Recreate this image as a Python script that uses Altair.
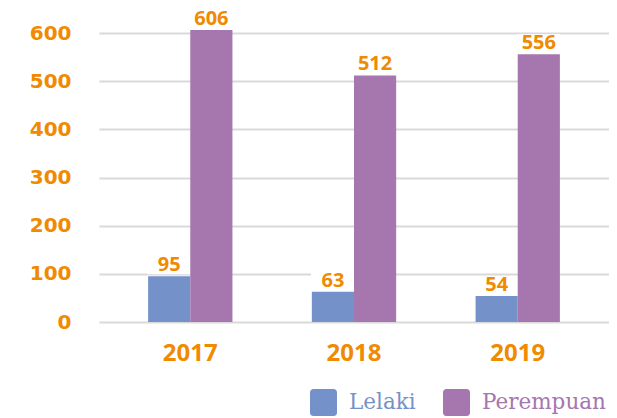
import altair as alt
import pandas as pd

years = ["2017", "2018", "2019"]
series = ["Lelaki", "Perempuan"]
lelaki = [95, 63, 54]
perempuan = [606, 512, 556]
y_ticks = list(range(0, 650, 50))

colors = ["#7591C9", "#A676AE"]
orange = "#F08A00"

rows = []
for i, yr in enumerate(years):
    rows.append({"year": yr, "series": series[0], "value": lelaki[i]})
    rows.append({"year": yr, "series": series[1], "value": perempuan[i]})
df = pd.DataFrame(rows)

x_enc = alt.X(
    "year:N",
    sort=years,
    title=None,
    scale=alt.Scale(paddingInner=0.485, paddingOuter=0.3),
    axis=alt.Axis(
        labelFont="Open Sans", labelFontWeight="bold", labelFontSize=24,
        labelColor=orange, labelPadding=19, domain=False, ticks=False,
        labelAngle=0, grid=False,
    ),
)
xoff = alt.XOffset("series:N", sort=series,
                   scale=alt.Scale(paddingInner=0, paddingOuter=0))
y_enc = alt.Y(
    "value:Q",
    title=None,
    scale=alt.Scale(domain=[0, 600], nice=False),
    axis=alt.Axis(
        values=y_ticks,
        labelExpr="datum.value % 100 === 0 ? datum.label : ''",
        labelFont="DejaVu Sans", labelFontWeight="bold", labelFontSize=20,
        labelColor=orange, labelPadding=28, domain=False, ticks=False,
        gridColor={"condition": {"test": "datum.value % 100 === 0", "value": "#d9d9d9"},
                   "value": "#f2f2f2"},
        gridWidth={"condition": {"test": "datum.value % 100 === 0", "value": 2},
                   "value": 1.5},
        minExtent=86, maxExtent=86,
    ),
)

rounded = ("M-0.75,-1 H0.75 A0.25,0.25 0 0 1 1,-0.75 V0.75 A0.25,0.25 0 0 1 0.75,1 "
           "H-0.75 A0.25,0.25 0 0 1 -1,0.75 V-0.75 A0.25,0.25 0 0 1 -0.75,-1 Z")

boxes = alt.Chart(df).mark_point(
    shape="M-1.1,-0.45 H1.1 V0.45 H-1.1 Z", filled=True, color="white",
    opacity=1, size=1600, yOffset=-11,
).encode(x=x_enc, xOffset=xoff, y=y_enc)

bars = alt.Chart(df).mark_bar().encode(
    x=alt.X("year:N", sort=years),
    xOffset=xoff,
    y="value:Q",
    color=alt.Color(
        "series:N", sort=series,
        scale=alt.Scale(domain=series, range=colors),
        legend=alt.Legend(
            title=None, orient="none", direction="horizontal",
            legendX=211, legendY=356, padding=0,
            symbolType=rounded, symbolSize=729, symbolStrokeWidth=0,
            symbolOpacity=1,
            labelFont="DejaVu Serif", labelFontSize=21.5,
            labelColor={"expr": "datum.value == 'Lelaki' ? '#7591C9' : '#A676AE'"},
            labelOffset=12, columnPadding=27,
        ),
    ),
)

labels = alt.Chart(df).mark_text(
    font="Open Sans", fontWeight="bold", fontSize=20, color=orange,
    baseline="middle", dy=-11,
).encode(x=alt.X("year:N", sort=years), xOffset=xoff, y="value:Q", text="value:Q")

chart = alt.layer(boxes, bars, labels).properties(
    width=510, height=289,
    background="white",
    autosize=alt.AutoSizeParams(type="none"),
    padding={"left": 91, "top": 25, "right": 0, "bottom": 96},
).configure_view(stroke=None)

chart.save("out.html", embed_options={"renderer": "svg", "actions": False})
